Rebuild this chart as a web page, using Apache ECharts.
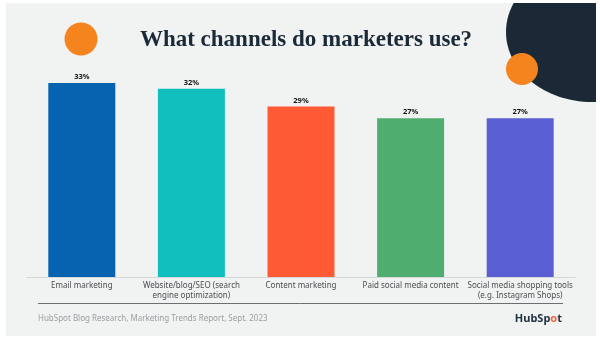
<!DOCTYPE html>
<html>
<head>
<meta charset="utf-8">
<script src="https://cdn.jsdelivr.net/npm/echarts@6/dist/echarts.min.js"></script>
<style>
html,body{margin:0;padding:0;background:#fff;}
#c{width:600px;height:341px;}
</style>
</head>
<body>
<div id="c"></div>
<script>
const categories = ['Email marketing', 'Website/blog/SEO (search\nengine optimization)', 'Content marketing', 'Paid social media content', 'Social media shopping tools\n(e.g. Instagram Shops)'];
const values = [33, 32, 29, 27, 27];
const barColors = ['#0663b0', '#12bfbf', '#ff5a36', '#4fae6f', '#5b5fd4'];
const titleText = 'What channels do marketers use?';
const sourceText = 'HubSpot Blog Research, Marketing Trends Report, Sept. 2023';

const chart = echarts.init(document.getElementById('c'));
chart.setOption({
  backgroundColor: '#ffffff',
  animation: false,
  title: {
    text: titleText,
    left: 301, top: 24, textAlign: 'center',
    textStyle: { fontFamily: 'Liberation Serif', fontWeight: 'bold', fontSize: 23, color: '#1b2a38' }
  },
  grid: { left: 27, width: 548, top: 71.2, height: 205.8 },
  xAxis: {
    type: 'category', data: categories,
    axisLine: { lineStyle: { color: '#d5d8da', width: 1 } },
    axisTick: { show: false },
    axisLabel: { interval: 0, color: '#4a4d50', fontSize: 8, fontFamily: 'Noto Sans', lineHeight: 9.5, margin: 4 }
  },
  yAxis: { type: 'value', min: 0, max: 35, show: false, splitLine: { show: false } },
  series: [{
    type: 'bar', barWidth: 67,
    data: values.map((v, i) => ({ value: v, itemStyle: { color: barColors[i] } })),
    label: { show: true, position: 'top', distance: 2, formatter: '{c}%', fontSize: 7.5, fontWeight: 'bold', color: '#111', fontFamily: 'Noto Sans' }
  }],
  graphic: [
    { type: 'rect', z: -100, shape: { x: 6, y: 3, width: 590, height: 333 }, style: { fill: '#f1f2f2' } },
    { type: 'ellipse', z: -90, shape: { cx: 592, cy: 32, rx: 86, ry: 70 }, style: { fill: '#1b2835' } },
    { type: 'circle', z: -80, shape: { cx: 522, cy: 69, r: 16 }, style: { fill: '#f5841f' } },
    { type: 'circle', z: -80, shape: { cx: 81, cy: 39, r: 16.5 }, style: { fill: '#f5841f' } },
    { type: 'rect', z: 100, shape: { x: 596, y: 0, width: 10, height: 341 }, style: { fill: '#ffffff' } },
    { type: 'rect', z: 100, shape: { x: 0, y: 0, width: 600, height: 3 }, style: { fill: '#ffffff' } },
    { type: 'line', z: 10, shape: { x1: 38, y1: 303.5, x2: 563, y2: 303.5 }, style: { stroke: '#6b6f73', lineWidth: 1 } },
    { type: 'text', z: 10, x: 38, y: 319, style: { text: sourceText, fill: '#9a9ea2', fontSize: 8, fontFamily: 'Noto Sans', verticalAlign: 'middle' } },
    { type: 'text', z: 10, x: 562, y: 319, style: {
      text: '{a|HubSp}{o|o}{a|t}', align: 'right', verticalAlign: 'middle',
      rich: {
        a: { fontSize: 11, fontWeight: 'bold', fontFamily: 'Noto Sans', fill: '#213343', color: '#213343' },
        o: { fontSize: 11, fontWeight: 'bold', fontFamily: 'Noto Sans', fill: '#ff5c35', color: '#ff5c35' }
      }
    } }
  ]
});
</script>
</body>
</html>
